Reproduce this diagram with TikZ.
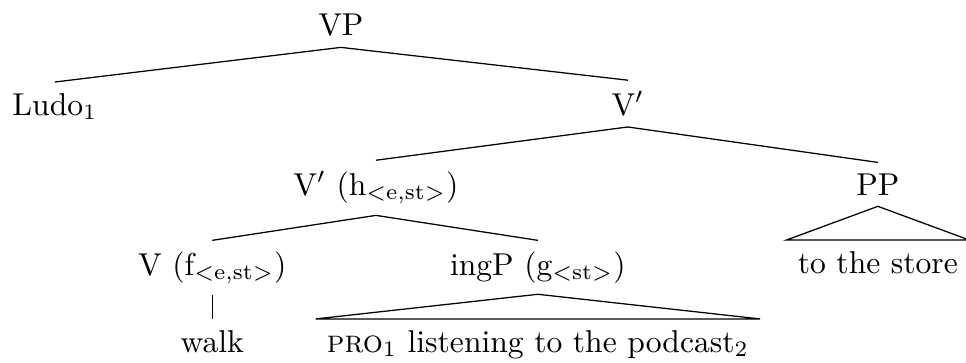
\documentclass[tikz,border=0pt]{standalone}
\usepackage{amsmath,amssymb}
\usepackage{tikz}
\usepackage{xcolor}

\begin{document}
\begin{tikzpicture}[x=1cm,y=1cm,every node/.style={anchor=base}]
\useasboundingbox (0,0) rectangle (10.74,-4.025);
\node (vp) at (3.79,-0.395) {VP};
\node (ludo) at (0.61,-1.28) {Ludo$_1$};
\node (vbar) at (6.98,-1.28) {V$'$};
\node (vbarh) at (4.18,-2.17) {V$'$ (h$_{\mathrm{<e,st>}}$)};
\node (pp) at (9.76,-2.17) {PP};
\node (vf) at (2.36,-3.06) {V (f$_{\mathrm{<e,st>}}$)};
\node (ingp) at (5.98,-3.06) {ingP (g$_{\mathrm{<st>}}$)};
\node (store) at (9.76,-3.036) {to the store};
\node (walk) at (2.36,-3.914) {walk};
\node (pro) at (5.98,-3.914) {\textsc{pro}$_1$ listening to the podcast$_2$};
\draw (vp.south) -- (ludo.north);
\draw (vp.south) -- (vbar.north);
\draw (vbar.south) -- (vbarh.north);
\draw (vbar.south) -- (pp.north);
\draw (vbarh.south) -- (vf.north);
\draw (vbarh.south) -- (ingp.north);
\draw (vf.south) -- (walk.north);
\draw (pp.south) -- (store.north west) -- (store.north east) -- cycle;
\draw (ingp.south) -- (pro.north west) -- (pro.north east) -- cycle;
\end{tikzpicture}
\end{document}
